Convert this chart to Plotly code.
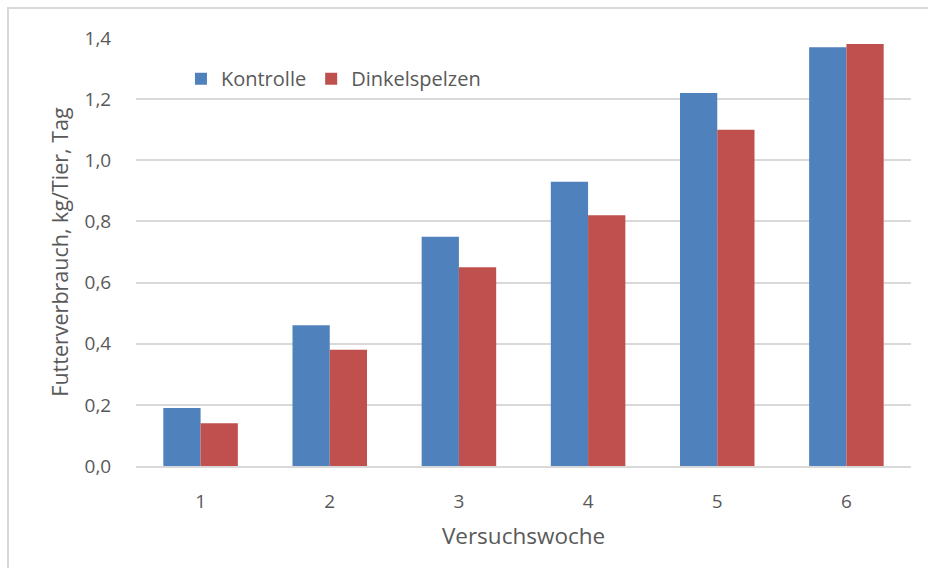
import plotly.graph_objects as go

weeks = ["1", "2", "3", "4", "5", "6"]
kontrolle = [0.19, 0.46, 0.75, 0.93, 1.22, 1.37]
dinkelspelzen = [0.14, 0.38, 0.65, 0.82, 1.10, 1.38]
y_ticks = [0.0, 0.2, 0.4, 0.6, 0.8, 1.0, 1.2, 1.4]

FONT = "Open Sans, sans-serif"
GRAY = "#595959"

fig = go.Figure()
fig.add_bar(x=weeks, y=kontrolle, name="Kontrolle", marker=dict(color="#4F81BD", line=dict(width=0)))
fig.add_bar(x=weeks, y=dinkelspelzen, name="Dinkelspelzen", marker=dict(color="#C0504D", line=dict(width=0)))

fig.update_layout(
    width=928, height=568,
    margin=dict(l=136, r=17, t=38, b=102),
    paper_bgcolor="white", plot_bgcolor="white",
    barmode="group", bargap=0.423, bargroupgap=0,
    separators=",.",
    font=dict(family=FONT, color=GRAY, size=16),
    showlegend=True,
    legend=dict(orientation="h", x=0.058, y=0.905, xanchor="left", yanchor="middle",
                font=dict(size=20, color=GRAY), bgcolor="rgba(0,0,0,0)",
                itemwidth=30, traceorder="normal"),
    xaxis=dict(showgrid=False, showline=True, linecolor="#d9d9d9", linewidth=1.5,
               tickfont=dict(size=19, color=GRAY), ticks="outside", ticklen=17, tickcolor="rgba(0,0,0,0)",
               title=dict(text="Versuchswoche", font=dict(size=22.5, color=GRAY), standoff=16)),
    yaxis=dict(range=[0, 1.4], tickvals=y_ticks, tickformat=".1f",
               showgrid=True, gridcolor="#d9d9d9", gridwidth=1.5, zeroline=False,
               tickfont=dict(size=19, color=GRAY), ticks="outside", ticklen=20, tickcolor="rgba(0,0,0,0)",
               title=dict(text="Futterverbrauch, kg/Tier, Tag", font=dict(size=21.5, color=GRAY), standoff=10)),
    shapes=[dict(type="rect", xref="paper", yref="paper",
                 x0=(8 - 136) / 775, x1=1.2, y0=-0.5, y1=1 + (38 - 8) / 428,
                 line=dict(color="#d9d9d9", width=2), layer="below")],
)

fig.write_html("out.html", config={"displayModeBar": False})

with open("out.html", "r", encoding="utf-8") as f:
    html = f.read()
html = html.replace("<head>", "<head><style>html,body{margin:0;padding:0;overflow:hidden;}</style>", 1)
with open("out.html", "w", encoding="utf-8") as f:
    f.write(html)
